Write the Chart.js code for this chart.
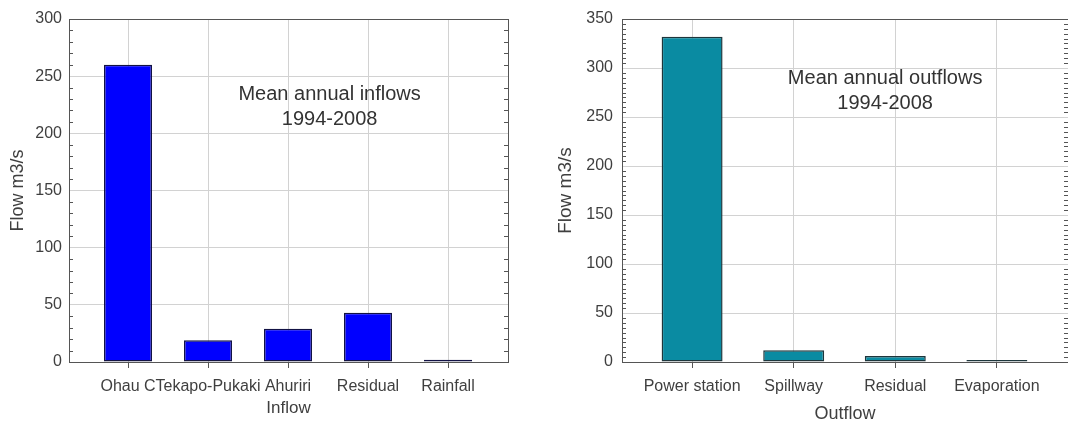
<!DOCTYPE html>
<html>
<head>
<meta charset="utf-8">
<script src="https://cdn.jsdelivr.net/npm/chart.js@4.4.1/dist/chart.umd.min.js"></script>
<style>
  html, body { margin: 0; padding: 0; background: #fff; overflow: hidden; width: 1068px; height: 425px; }
  #inflowBox { position: absolute; left: 0; top: 0; width: 540px; height: 425px; }
  #outflowBox { position: absolute; left: 540px; top: 0; width: 540px; height: 425px; }
</style>
</head>
<body>
<div id="inflowBox"><canvas id="inflowChart"></canvas></div>
<div id="outflowBox"><canvas id="outflowChart"></canvas></div>
<script>
// Mean annual inflows to the lake, m3/s
const inflowCategories = ['Ohau C', 'Tekapo-Pukaki', 'Ahuriri', 'Residual', 'Rainfall'];
const inflowValues = [260, 19, 29, 43, 2];

// Mean annual outflows from the lake, m3/s
const outflowCategories = ['Power station', 'Spillway', 'Residual', 'Evaporation'];
const outflowValues = [332, 12, 6, 2];

// Value axis ranges and tick spacing
const inflowYMax = 300;
const outflowYMax = 350;
const yStep = 50;

// Text notes inside each plot
const inflowNote = ['Mean annual inflows', '1994-2008'];
const outflowNote = ['Mean annual outflows', '1994-2008'];

const FONT = "'Liberation Sans', Arial, Helvetica, sans-serif";
const TEXT = '#3f3f3f';
const GRID = '#d2d2d2';
const FRAME = '#555555';

// Draws the box around the plot, the small inward minor ticks and the text note
const framePlugin = {
  id: 'frameNote',
  afterDatasetsDraw(chart, args, opts) {
    const { ctx, chartArea: a, scales: { x, y } } = chart;
    ctx.save();
    ctx.strokeStyle = FRAME;
    ctx.lineWidth = 1;
    // minor ticks
    ctx.beginPath();
    for (let v = opts.minorStep; v < y.max; v += opts.minorStep) {
      if (v % yStep === 0) continue;
      const py = Math.round(y.getPixelForValue(v)) + 0.5;
      ctx.moveTo(a.left, py); ctx.lineTo(a.left + 4, py);
      ctx.moveTo(a.right - 4, py); ctx.lineTo(a.right, py);
    }
    ctx.stroke();
    // frame
    ctx.strokeRect(Math.round(a.left) + 0.5, Math.round(a.top) + 0.5,
                   Math.round(a.right - a.left), Math.round(a.bottom - a.top));
    // note
    ctx.fillStyle = '#333';
    ctx.font = '20px ' + FONT;
    ctx.textAlign = 'center';
    ctx.textBaseline = 'middle';
    const px = x.getPixelForValue(opts.noteX);
    opts.lines.forEach((t, i) => {
      ctx.fillText(t, px, y.getPixelForValue(opts.noteY[i]));
    });
    ctx.restore();
  }
};

function makeChart(id, cfg) {
  const cats = cfg.categories;
  return new Chart(document.getElementById(id), {
    type: 'bar',
    data: {
      datasets: [{
        data: cfg.values.map((v, i) => ({ x: i, y: v })),
        backgroundColor: cfg.fill,
        borderColor: cfg.edge,
        borderWidth: 1.5,
        borderSkipped: false,
        categoryPercentage: 1,
        barPercentage: 0.6
      }]
    },
    options: {
      responsive: true,
      maintainAspectRatio: false,
      animation: false,
      layout: { padding: { left: 0, top: 19, right: cfg.padRight, bottom: 0 } },
      plugins: {
        legend: { display: false },
        tooltip: { enabled: false },
        frameNote: { minorStep: cfg.minorStep, lines: cfg.note, noteX: cfg.noteX, noteY: cfg.noteY }
      },
      scales: {
        x: {
          type: 'linear',
          offset: false,
          min: cfg.xMin,
          max: cfg.xMax,
          afterBuildTicks: s => { s.ticks = cats.map((_, i) => ({ value: i })); },
          afterFit: s => { s.height = 63; },
          ticks: {
            autoSkip: false, maxRotation: 0, minRotation: 0, padding: 9,
            color: TEXT, font: { family: FONT, size: 16 },
            callback: v => cats[v]
          },
          grid: { offset: false, color: GRID, drawTicks: true, tickLength: 6, tickColor: '#555' },
          border: { display: false },
          title: {
            display: true, text: cfg.xTitle, color: TEXT,
            font: { family: FONT, size: cfg.xTitleSize },
            padding: { top: 0, bottom: cfg.xTitlePad }
          }
        },
        y: {
          min: 0,
          max: cfg.yMax,
          afterFit: s => { s.width = cfg.yWidth; },
          ticks: { stepSize: yStep, padding: cfg.yTickPad, color: TEXT, font: { family: FONT, size: 16 } },
          grid: { color: GRID, drawTicks: false },
          border: { display: false },
          title: {
            display: true, text: 'Flow m3/s', color: TEXT,
            font: { family: FONT, size: cfg.yTitleSize },
            padding: { top: cfg.yTitlePad, bottom: 0 }
          }
        }
      }
    },
    plugins: [framePlugin]
  });
}

makeChart('inflowChart', {
  categories: inflowCategories, values: inflowValues,
  fill: '#0000ff', edge: '#121244',
  yMax: inflowYMax, minorStep: 10,
  xMin: -0.7375, xMax: 4.75, padRight: 32,
  yWidth: 69, yTickPad: 7, yTitleSize: 18, yTitlePad: 7,
  xTitle: 'Inflow', xTitleSize: 17, xTitlePad: 6,
  note: inflowNote, noteX: 2.52, noteY: [234, 212]
});

makeChart('outflowChart', {
  categories: outflowCategories, values: outflowValues,
  fill: '#0a8ba2', edge: '#1e363c',
  yMax: outflowYMax, minorStep: 5,
  xMin: -0.69, xMax: 3.70, padRight: 12,
  yWidth: 82, yTickPad: 9, yTitleSize: 19, yTitlePad: 14,
  xTitle: 'Outflow', xTitleSize: 18, xTitlePad: 0,
  note: outflowNote, noteX: 1.90, noteY: [289, 264]
});
</script>
</body>
</html>
